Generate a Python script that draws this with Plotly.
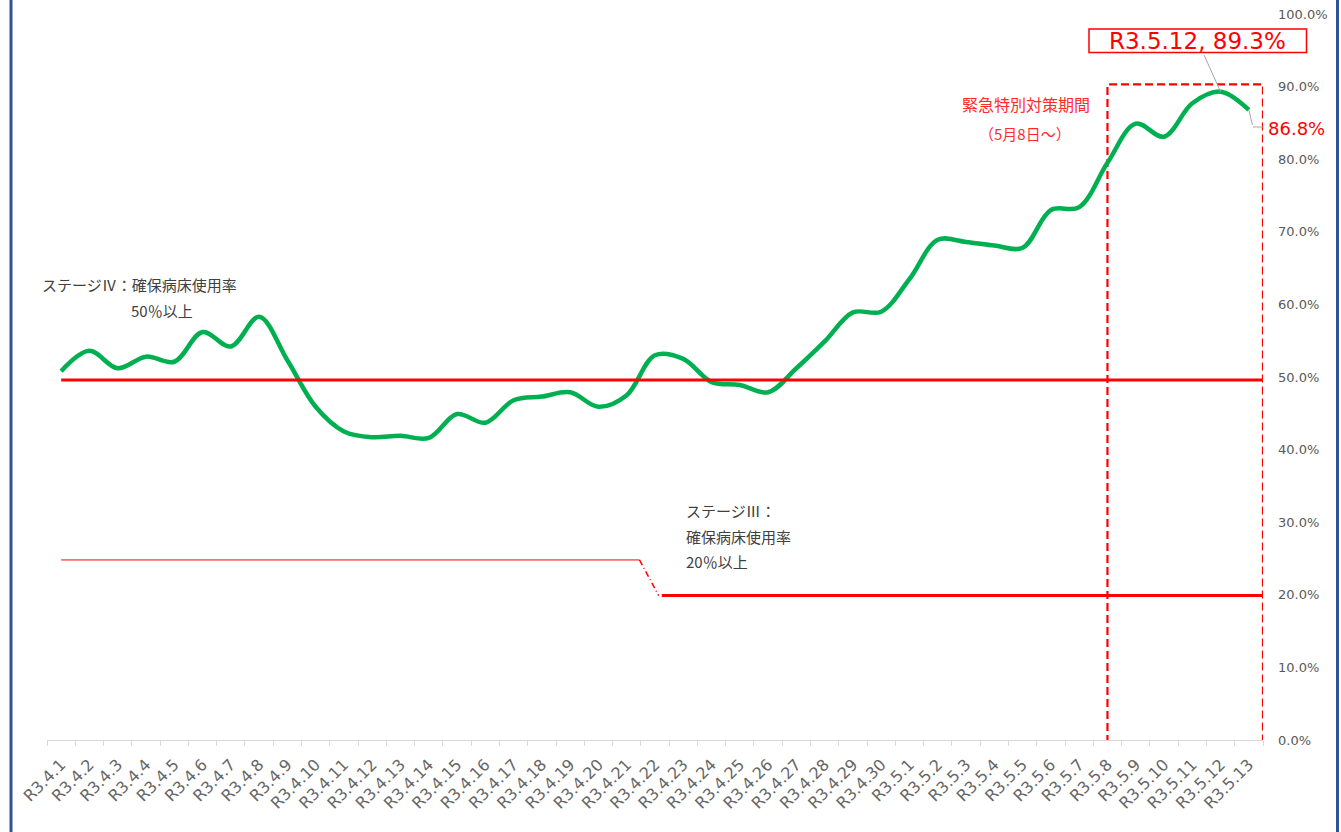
import plotly.graph_objects as go

# ---------------- data ----------------
dates = [
    "R3.4.1", "R3.4.2", "R3.4.3", "R3.4.4", "R3.4.5", "R3.4.6", "R3.4.7", "R3.4.8", "R3.4.9", "R3.4.10",
    "R3.4.11", "R3.4.12", "R3.4.13", "R3.4.14", "R3.4.15", "R3.4.16", "R3.4.17", "R3.4.18", "R3.4.19", "R3.4.20",
    "R3.4.21", "R3.4.22", "R3.4.23", "R3.4.24", "R3.4.25", "R3.4.26", "R3.4.27", "R3.4.28", "R3.4.29", "R3.4.30",
    "R3.5.1", "R3.5.2", "R3.5.3", "R3.5.4", "R3.5.5", "R3.5.6", "R3.5.7", "R3.5.8", "R3.5.9", "R3.5.10",
    "R3.5.11", "R3.5.12", "R3.5.13",
]
# 確保病床使用率 (%)
usage = [
    50.8, 53.6, 51.2, 52.8, 52.1, 56.2, 54.2, 58.3, 52.3, 45.9,
    42.5, 41.7, 41.9, 41.6, 44.9, 43.7, 46.8, 47.3, 47.9, 45.9,
    47.5, 53.0, 52.5, 49.3, 48.9, 47.9, 51.2, 54.9, 58.9, 59.0,
    63.5, 68.9, 68.6, 68.1, 67.8, 73.0, 73.4, 79.5, 84.9, 83.1,
    87.7, 89.3, 86.8,
]
stage4_level = 49.6       # ステージIV 50%以上
stage3_prev_level = 24.8  # 旧ステージIII
stage3_level = 19.9       # ステージIII 20%以上
emergency_start = "R3.5.8"
y_ticks = [0, 10, 20, 30, 40, 50, 60, 70, 80, 90, 100]

# ---------------- layout helpers ----------------
W, H = 1341, 832
L, R, T, B = 47, 78, 14, 92
PW, PH = W - L - R, H - T - B


def px(xp):
    return (xp - L) / PW


def py(yp):
    return (H - B - yp) / PH


RED = "#FF0000"
GRAY_TXT = "#595959"
DARK_TXT = "#404040"
JP = "Noto Sans CJK JP"
LAT = "DejaVu Sans"

n = len(dates)
start_idx = dates.index(emergency_start)
peak_idx = max(range(n), key=lambda i: usage[i])

fig = go.Figure()
fig.add_trace(go.Scatter(
    x=dates, y=usage, mode="lines",
    line=dict(color="#00B050", width=4.5, shape="spline", smoothing=1.0),
    hoverinfo="skip", showlegend=False,
))

shapes = [
    # emergency period dashed frame
    dict(type="rect", xref="x", yref="y", x0=start_idx, x1=n - 0.5, y0=-0.4, y1=90.3,
         line=dict(color=RED, width=2.2, dash="8px,4px"), fillcolor="rgba(0,0,0,0)", layer="below"),
    # stage IV line
    dict(type="line", xref="x", yref="y", x0=0, x1=n - 0.35, y0=stage4_level, y1=stage4_level,
         line=dict(color=RED, width=3)),
    # old stage III line
    dict(type="line", xref="x", yref="y", x0=0, x1=20.45, y0=stage3_prev_level, y1=stage3_prev_level,
         line=dict(color=RED, width=1)),
    dict(type="line", xref="x", yref="y", x0=20.45, x1=21.13, y0=stage3_prev_level, y1=stage3_level,
         line=dict(color=RED, width=1.5, dash="6px,3px,1px,3px")),
    # stage III line
    dict(type="line", xref="x", yref="y", x0=21.24, x1=n - 0.1, y0=stage3_level, y1=stage3_level,
         line=dict(color=RED, width=3)),
    # peak label box
    dict(type="rect", xref="paper", yref="paper", x0=px(1089), x1=px(1306.5), y0=py(52.5), y1=py(29),
         line=dict(color=RED, width=1.5), fillcolor="rgba(0,0,0,0)"),
    # last value leader (horizontal part)
    dict(type="line", xref="paper", yref="paper", x0=px(1253), x1=px(1264), y0=py(127), y1=py(127),
         line=dict(color="#A6A6A6", width=1)),
    # blue frame
    dict(type="line", xref="paper", yref="paper", x0=px(11), x1=px(11), y0=py(H), y1=py(0),
         line=dict(color="#2F5597", width=3)),
    dict(type="line", xref="paper", yref="paper", x0=px(1337.5), x1=px(1337.5), y0=py(H), y1=py(0),
         line=dict(color="#2F5597", width=3)),
]

annotations = [
    dict(x=dates[peak_idx], y=usage[peak_idx], xref="x", yref="y",
         text=f"{dates[peak_idx]}, {usage[peak_idx]:.1f}%",
         showarrow=True, arrowhead=0, arrowwidth=1, arrowcolor="#A6A6A6",
         ax=-23, ay=-51, font=dict(family=LAT, size=23, color=RED)),
    dict(x=dates[-1], y=usage[-1], xref="x", yref="y", text=" ",
         showarrow=True, arrowhead=0, arrowwidth=1, arrowcolor="#A6A6A6",
         ax=4, ay=17, font=dict(size=1)),
    dict(x=px(1266), y=py(128), xref="paper", yref="paper", xanchor="left", yanchor="middle",
         text=f"{usage[-1]:.1f}%", showarrow=False, font=dict(family=LAT, size=18, color=RED)),
    dict(x=px(1026), y=py(104), xref="paper", yref="paper", xanchor="center", yanchor="middle",
         text="緊急特別対策期間", showarrow=False, font=dict(family=JP, size=16, color="#FF2A2A")),
    dict(x=px(1025), y=py(133), xref="paper", yref="paper", xanchor="center", yanchor="middle",
         text="（5月8日～）", showarrow=False, font=dict(family=JP, size=15, color="#FF2A2A")),
    dict(x=px(40), y=py(284), xref="paper", yref="paper", xanchor="left", yanchor="middle",
         text="ステージⅣ：確保病床使用率", showarrow=False, font=dict(family=JP, size=15, color=DARK_TXT)),
    dict(x=px(129), y=py(310), xref="paper", yref="paper", xanchor="left", yanchor="middle",
         text="50％以上", showarrow=False, font=dict(family=JP, size=15, color=DARK_TXT)),
    dict(x=px(684), y=py(510), xref="paper", yref="paper", xanchor="left", yanchor="middle",
         text="ステージⅢ：", showarrow=False, font=dict(family=JP, size=15, color=DARK_TXT)),
    dict(x=px(684), y=py(536), xref="paper", yref="paper", xanchor="left", yanchor="middle",
         text="確保病床使用率", showarrow=False, font=dict(family=JP, size=15, color=DARK_TXT)),
    dict(x=px(684), y=py(561), xref="paper", yref="paper", xanchor="left", yanchor="middle",
         text="20％以上", showarrow=False, font=dict(family=JP, size=15, color=DARK_TXT)),
]

fig.update_layout(
    width=W, height=H,
    margin=dict(l=L, r=R, t=T, b=B, autoexpand=False),
    paper_bgcolor="white", plot_bgcolor="white",
    showlegend=False,
    shapes=shapes, annotations=annotations,
    xaxis=dict(
        type="category", range=[-0.5, n - 0.5], categoryorder="array", categoryarray=dates,
        showline=True, linecolor="#D9D9D9", linewidth=1,
        ticks="outside", tickson="boundaries", ticklen=5, tickcolor="#D9D9D9",
        tickangle=-45, tickfont=dict(family=LAT, size=16, color="#666666"),
        ticklabelstandoff=8,
        showgrid=False, zeroline=False, automargin=False,
    ),
    yaxis=dict(
        side="right", range=[0, 100], tickvals=y_ticks,
        ticktext=[f"{v:.1f}%" for v in y_ticks],
        tickfont=dict(family=LAT, size=13, color=GRAY_TXT),
        ticks="", ticklabelstandoff=14,
        showline=False, showgrid=False, zeroline=False, automargin=False,
    ),
)

fig.write_html("out.html", include_plotlyjs=True, config={"displayModeBar": False},
               post_script="document.body.style.margin='0';")
